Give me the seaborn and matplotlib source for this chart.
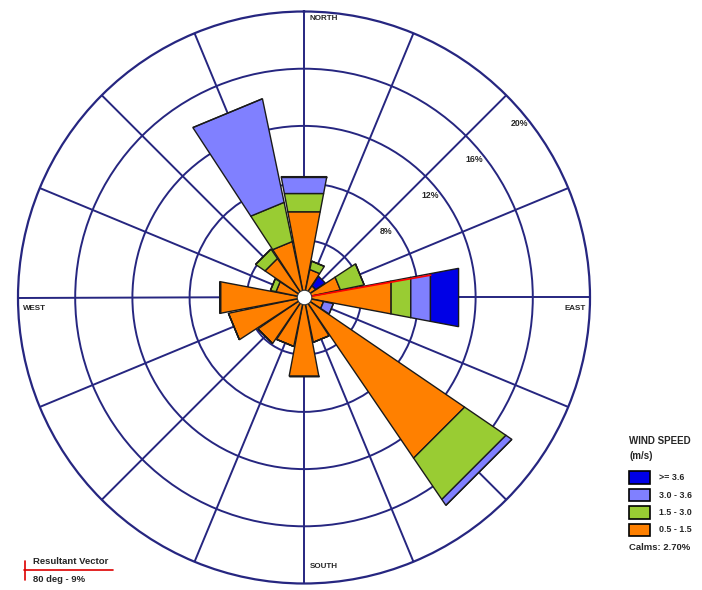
import numpy as np
import pandas as pd
import matplotlib
matplotlib.use("Agg")
import matplotlib.pyplot as plt
from matplotlib.patches import Rectangle
from matplotlib.lines import Line2D
import seaborn as sns

# Wind rose: frequency (%) per direction sector, split by speed class
directions = ["N", "NNE", "NE", "ENE", "E", "ESE", "SE", "SSE",
              "S", "SSW", "SW", "WSW", "W", "WNW", "NW", "NNW"]
dir_deg = [0, 22.5, 45, 67.5, 90, 112.5, 135, 157.5,
           180, 202.5, 225, 247.5, 270, 292.5, 315, 337.5]
speed_classes = ["0.5 - 1.5", "1.5 - 3.0", "3.0 - 3.6", ">= 3.6"]
freq_low = [6.1, 2.0, 1.0, 2.6, 6.2, 1.4, 13.6, 3.2, 5.6, 3.5, 3.9, 5.4, 6.0, 2.0, 3.3, 4.0]
freq_mid = [1.3, 0.6, 0.0, 1.7, 1.4, 0.0, 3.5, 0.0, 0.0, 0.0, 0.0, 0.0, 0.0, 0.4, 0.8, 2.8]
freq_high = [1.2, 0.0, 0.0, 0.0, 1.4, 0.7, 0.5, 0.0, 0.0, 0.0, 0.0, 0.0, 0.0, 0.0, 0.0, 7.4]
freq_top = [0.0, 0.0, 0.8, 0.0, 2.0, 0.0, 0.0, 0.0, 0.0, 0.0, 0.0, 0.0, 0.0, 0.0, 0.0, 0.0]
ring_values = [4, 8, 12, 16, 20]
ring_labels = ["8%", "12%", "16%", "20%"]
calms_text = "Calms: 2.70%"
resultant_deg = 80
resultant_pct = 9

colors = {"0.5 - 1.5": "#FF8000", "1.5 - 3.0": "#99CC33",
          "3.0 - 3.6": "#8080FF", ">= 3.6": "#0000E6"}
navy = "#262680"

rows = []
for cls, vals in zip(speed_classes, [freq_low, freq_mid, freq_high, freq_top]):
    for d, v in zip(dir_deg, vals):
        rows.append({"theta": np.deg2rad(d), "freq": v, "speed": cls})
df = pd.DataFrame(rows)

sns.set_theme(style="white")
plt.rcParams["font.family"] = ["Liberation Sans", "DejaVu Sans"]

W, H = 702, 590
fig = plt.figure(figsize=(W / 100, H / 100), dpi=100)
cx, cy, R = 304, 297.5, 286
ax = fig.add_axes([(cx - R) / W, (H - cy - R) / H, 2 * R / W, 2 * R / H],
                  projection="polar")
ax.set_theta_zero_location("N")
ax.set_theta_direction(-1)

# seaborn stacks the last hue level innermost, so list the slowest class last
sector = np.deg2rad(22.5)
sns.histplot(data=df, x="theta", weights="freq", hue="speed",
             hue_order=speed_classes[::-1], palette=colors, multiple="stack",
             binwidth=sector, binrange=(-sector / 2, 2 * np.pi - sector / 2),
             shrink=0.95, element="bars", alpha=1,
             edgecolor="#1a1a1a", linewidth=1.0, legend=False, ax=ax, zorder=3)

# straight outer edges on the wedges
for p in ax.patches:
    p.get_path()._interpolation_steps = 1

ax.set_ylim(0, ring_values[-1])
ax.set_yticks(ring_values[:-1])
ax.set_yticklabels([])
ax.set_xticks(np.deg2rad(dir_deg))
ax.set_xticklabels([])
ax.set_xlabel("")
ax.set_ylabel("")
ax.grid(True, color=navy, linewidth=1.4)
ax.set_axisbelow(True)
ax.spines["polar"].set_color(navy)
ax.spines["polar"].set_linewidth(1.6)
ax.set_facecolor("white")

# calm circle at the centre
ax.scatter([0], [0], s=110, color="white", edgecolors="#333333",
           linewidths=0.8, zorder=6)

# resultant vector
ax.plot([np.deg2rad(resultant_deg)] * 2, [0.5, resultant_pct],
        color="red", lw=1.2, zorder=5)

# ring labels
for v, lab in zip(ring_values[1:], ring_labels):
    ax.text(np.deg2rad(51), v - 0.65, lab, fontsize=6.3, fontweight="bold",
            ha="center", va="center", zorder=7)

# compass labels
def ftext(x, y, s, size=6.6, **kw):
    fig.text(x / W, 1 - y / H, s, fontsize=size, fontweight="bold", **kw)

ftext(310, 19, "NORTH", size=5.8, ha="left", va="center")
ftext(310, 567, "SOUTH", size=5.8, ha="left", va="center")
ftext(23, 309, "WEST", size=5.8, ha="left", va="center")
ftext(586, 309, "EAST", size=5.8, ha="right", va="center")

# speed legend
ftext(629, 441, "WIND SPEED", size=7, ha="left", va="center")
ftext(629, 456, "(m/s)", size=7, ha="left", va="center")
box_tops = [471, 488.5, 506, 523.5]
for top, cls in zip(box_tops, speed_classes[::-1]):
    fig.add_artist(Rectangle(((629) / W, 1 - (top + 12.5) / H), 21 / W, 12.5 / H,
                             transform=fig.transFigure, facecolor=colors[cls],
                             edgecolor="black", linewidth=1.2))
    ftext(659, top + 6.5, cls, size=6.4, ha="left", va="center")
ftext(629, 548, calms_text, size=6.8, ha="left", va="center")

# resultant vector key
fig.add_artist(Line2D([24 / W, 113 / W], [1 - 570 / H, 1 - 570 / H],
                      transform=fig.transFigure, color="#dd0000", lw=1.2))
fig.add_artist(Line2D([25 / W, 25 / W], [1 - 561 / H, 1 - 580 / H],
                      transform=fig.transFigure, color="#dd0000", lw=1.2))
ftext(33, 561, "Resultant Vector", size=6.8, ha="left", va="center")
ftext(33, 580, f"{resultant_deg} deg - {resultant_pct}%", size=6.8,
      ha="left", va="center")

fig.savefig("out.png", dpi=100, facecolor="white")
